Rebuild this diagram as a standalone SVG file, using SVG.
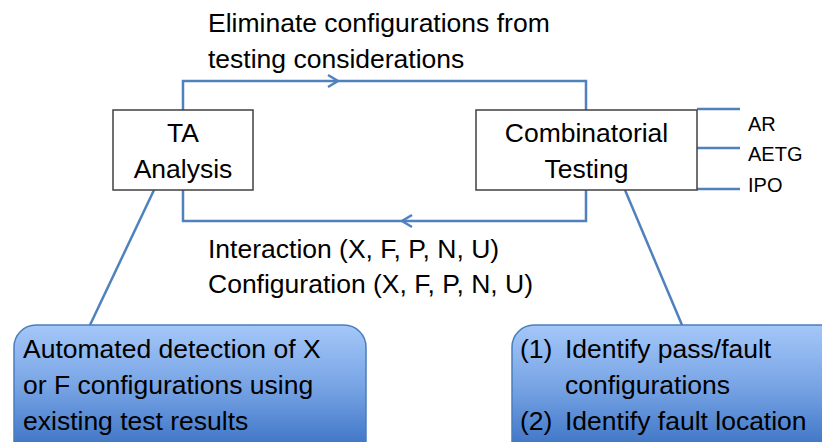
<svg xmlns="http://www.w3.org/2000/svg" width="822" height="442" viewBox="0 0 822 442">
<style>
text{font-family:"Liberation Sans",Arial,sans-serif;fill:#000;}
.t{font-size:26.5px;}
.s{font-size:20px;}
.box{fill:#fff;stroke:#404040;stroke-width:1.5;}
.ln{fill:none;stroke:#4f81bd;stroke-width:2.5;}
.call{fill:url(#g);stroke:#4a7ebb;stroke-width:1.5;}
</style>
<defs>
<linearGradient id="g" gradientUnits="userSpaceOnUse" x1="0" y1="325" x2="0" y2="442">
<stop offset="0" stop-color="#a4c7f8"/>
<stop offset="0.5" stop-color="#7aa6e6"/>
<stop offset="1" stop-color="#4379c8"/>
</linearGradient>
</defs>
<g id="connectors">
<path class="ln" d="M183,110 V81 H586 V110"/>
<path class="ln" d="M328,75 L338,81 L328,87"/>
<path class="ln" d="M183,190 V221 H586 V190"/>
<path class="ln" d="M412,215 L402,221 L412,227"/>
<path class="ln" d="M697,109 H740 M697,148 H740 M697,189 H740"/>
<path class="ln" d="M154,190 L90,325"/>
<path class="ln" d="M625,190 L682,325"/>
</g>
<g id="label-top">
<text class="t" x="208" y="32">Eliminate configurations from</text>
<text class="t" x="208" y="68">testing considerations</text>
</g>
<g id="label-bottom">
<text class="t" x="208" y="258">Interaction (X, F, P, N, U)</text>
<text class="t" x="208" y="293">Configuration (X, F, P, N, U)</text>
</g>
<g id="ta">
<rect class="box" x="113" y="110" width="140" height="80"/>
<text class="t" x="183" y="142" text-anchor="middle">TA</text>
<text class="t" x="183" y="178" text-anchor="middle">Analysis</text>
</g>
<g id="ct">
<rect class="box" x="476" y="110" width="221" height="80"/>
<text class="t" x="586.5" y="142" text-anchor="middle">Combinatorial</text>
<text class="t" x="586.5" y="178" text-anchor="middle">Testing</text>
</g>
<g id="algos">
<text class="s" x="748" y="131">AR</text>
<text class="s" x="748" y="161">AETG</text>
<text class="s" x="748" y="192">IPO</text>
</g>
<g id="auto">
<rect class="call" x="14" y="325" width="352" height="140" rx="22"/>
<text class="t" x="23" y="358">Automated detection of X</text>
<text class="t" x="23" y="394">or F configurations using</text>
<text class="t" x="23" y="430">existing test results</text>
</g>
<g id="identify">
<rect class="call" x="512" y="325" width="330" height="140" rx="22"/>
<text class="t" x="520" y="358">(1)</text>
<text class="t" x="565" y="358">Identify pass/fault</text>
<text class="t" x="565" y="394">configurations</text>
<text class="t" x="520" y="430">(2)</text>
<text class="t" x="565" y="430">Identify fault location</text>
</g>
</svg>
